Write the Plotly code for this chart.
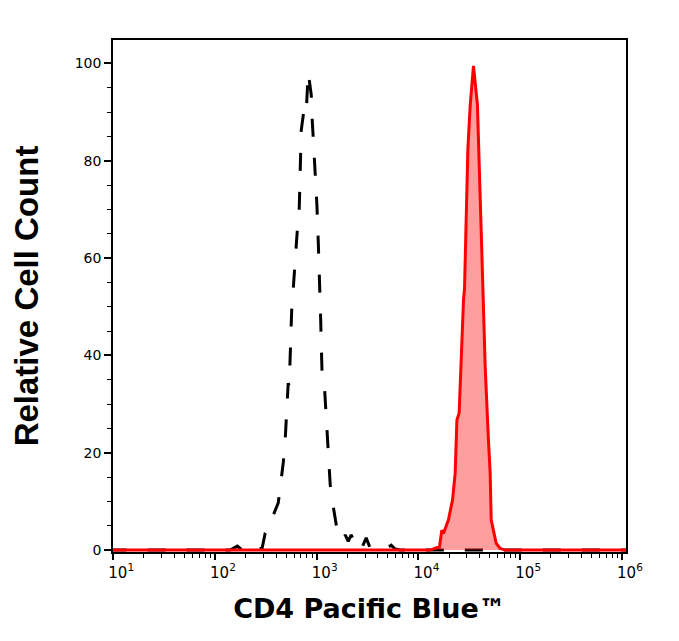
import plotly.graph_objects as go

# isotype control (black dashed) - intensity vs relative count
ctrl_x = [9, 141, 166, 185, 217, 243, 291, 312, 334, 365, 419, 448, 469, 490, 501, 519,
          525, 537, 549, 561, 568, 587, 601, 629, 643, 673, 681, 689, 697, 705, 754, 789,
          825, 884, 904, 925, 951, 977, 1005, 1035, 1071, 1095, 1120, 1133, 1185, 1213,
          1240, 1268, 1297, 1358, 1420, 1521, 1627, 1781, 1906, 2042, 2183, 2338, 2559,
          2800, 3064, 3357, 4712, 5397, 5904, 6620, 1.2e6]
ctrl_y = [0, 0, 0.8, 0, 0.8, 0, 0.4, 3.5, 4.1, 6.6, 9.7, 14.0, 17.9, 22.6, 26.1, 30.8,
          34.3, 33.7, 41.7, 45.2, 49.3, 53.4, 57.1, 61.6, 65.3, 69.9, 73.6, 78.1, 81.8, 86.3, 90.8, 89.8,
          98.2, 93.5, 88.4, 84.7, 79.1, 76.4, 70.9, 63.7, 55.5, 47.3, 39.0, 35.5, 34.5, 30.8,
          26.7, 21.6, 18.5, 13.4, 10.3, 6.2, 2.7, 2.1, 3.1, 1.8, 3.1, 1.8, 2.5,
          0.6, 2.5, 0.4, 0.2, 1.0, 0.2, 0, 0]

# CD4 Pacific Blue stained sample (red filled)
cd4_x = [9, 13030, 14620, 16110, 16980, 17620, 19720, 21630, 22960, 23880, 25120, 26120,
         27730, 28380, 29240, 29920, 30620, 32280, 34750, 38020, 39540, 40460, 42070,
         43550, 45290, 48750, 50700, 51880, 54700, 58080, 63530, 71290, 1.2e6]
cd4_y = [0, 0, 0.4, 0.7, 4.1, 3.4, 6.2, 10.3, 15.8, 26.7, 28.1, 37.7,
         51.4, 53.8, 67.5, 79.1, 82.5, 91.4, 99.5, 91.4, 81.2, 72.3, 60.6,
         51.4, 37.7, 22.6, 15.8, 6.2, 4.1, 1.4, 0.35, 0, 0]

x_ticks = [10, 100, 1000, 10000, 100000, 1000000]
x_ticklabels = ["10<sup>1</sup>", "10<sup>2</sup>", "10<sup>3</sup>",
                "10<sup>4</sup>", "10<sup>5</sup>", "10<sup>6</sup>"]

minor_x = [k * 10 ** p for p in range(1, 6) for k in range(2, 10)]

fig = go.Figure()
fig.add_trace(go.Scatter(
    x=ctrl_x, y=ctrl_y, mode="lines",
    line=dict(color="black", width=3, dash="18px,21px"),
    showlegend=False))
fig.add_trace(go.Scatter(
    x=cd4_x, y=cd4_y, mode="lines", fill="tozeroy",
    fillcolor="rgba(255,0,0,0.38)",
    line=dict(color="#ff0000", width=3),
    showlegend=False))

fig.update_layout(
    width=679, height=641,
    margin=dict(l=105, r=61, t=32, b=97),
    paper_bgcolor="white", plot_bgcolor="white",
    font=dict(family="DejaVu Sans", size=13, color="black"),
)
fig.update_xaxes(
    type="log", range=[0.998, 6.04],
    tickmode="array", tickvals=x_ticks, ticktext=x_ticklabels,
    ticks="outside", ticklen=6, tickwidth=2, tickcolor="black",
    ticklabelshift=8,
    minor=dict(tickvals=minor_x, ticks="outside", ticklen=4, tickwidth=1, tickcolor="black"),
    showline=True, linecolor="black", linewidth=1.5, mirror=True,
    showgrid=False, zeroline=False,
    tickfont=dict(family="DejaVu Sans", size=15),
    title=dict(text="CD4 Pacific Blue™", standoff=18,
               font=dict(family="DejaVu Sans", size=27, weight="bold")),
)
fig.update_yaxes(
    range=[-0.4, 104.8],
    tickmode="linear", tick0=0, dtick=20,
    ticks="outside", ticklen=7, tickwidth=2, tickcolor="black",
    minor=dict(dtick=5, ticks="outside", ticklen=4, tickwidth=1, tickcolor="black"),
    showline=True, linecolor="black", linewidth=1.5, mirror=True,
    showgrid=False, zeroline=False,
    tickfont=dict(family="DejaVu Sans", size=14),
    title=dict(text="Relative Cell Count", standoff=26,
               font=dict(family="Liberation Sans", size=33, weight="bold")),
)

fig.write_html("out.html")
